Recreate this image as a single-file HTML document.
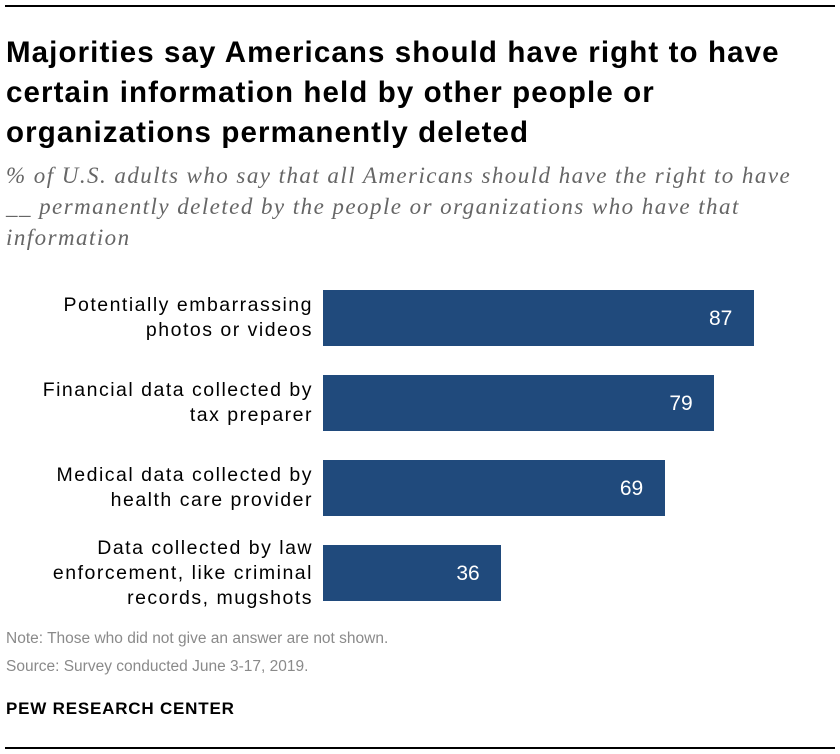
<!DOCTYPE html>
<html><head><meta charset="utf-8"><style>
body{margin:0;width:840px;height:754px;background:#fff;position:relative;font-family:"Liberation Sans",sans-serif;overflow:hidden}
.abs{position:absolute}
#title{left:6px;top:33px;font-size:29.5px;font-weight:bold;line-height:40px;color:#000;letter-spacing:1.1px;white-space:nowrap}
#sub{left:6px;top:160px;font-family:"Liberation Serif",serif;font-style:italic;font-size:23px;line-height:31px;color:#666;letter-spacing:1.45px;white-space:nowrap}
.lab{position:absolute;right:527px;text-align:right;font-size:19.5px;line-height:25px;color:#000;letter-spacing:1.5px;white-space:nowrap}
.bar{position:absolute;background:#204a7c}
.val{position:absolute;color:#fff;font-size:21px;line-height:21px}
.note{left:6px;font-size:15.5px;color:#8a8a8a}
</style></head><body>
<div class="abs" style="left:5px;top:5px;width:830px;height:2px;background:#000"></div>
<div id="title" class="abs">Majorities say Americans should have right to have<br>certain information held by other people or<br>organizations permanently deleted</div>
<div id="sub" class="abs">% of U.S. adults who say that all Americans should have the right to have<br>__ permanently deleted by the people or organizations who have that<br>information</div>
<div id="chart"></div>
<div class="abs note" style="top:630px">Note: Those who did not give an answer are not shown.</div>
<div class="abs note" style="top:658px">Source: Survey conducted June 3-17, 2019.</div>
<div class="abs" style="left:6px;top:699px;font-size:17px;font-weight:bold;letter-spacing:0.8px">PEW RESEARCH CENTER</div>
<div class="abs" style="left:5px;top:747px;width:830px;height:2px;background:#000"></div>
<script>
const categories=[["Potentially embarrassing","photos or videos"],["Financial data collected by","tax preparer"],["Medical data collected by","health care provider"],["Data collected by law","enforcement, like criminal","records, mugshots"]];
const values=[87,79,69,36];
const x0=323,scale=431/87,y0=290,pitch=85,bh=56;
const c=document.getElementById('chart');
values.forEach((v,i)=>{
  const y=y0+i*pitch;
  const b=document.createElement('div');b.className='bar';
  
  
  b.style.left=x0+'px';b.style.top=y+'px';b.style.width=(v*scale)+'px';b.style.height=bh+'px';
  c.appendChild(b);
  const t=document.createElement('div');t.className='val';
  
  
  t.textContent=v;t.style.left=(x0+v*scale-45)+'px';t.style.top=(y+18)+'px';
  c.appendChild(t);
  const l=document.createElement('div');l.className='lab';
  
  
  l.innerHTML=categories[i].join('<br>');
  const n=categories[i].length;
  l.style.top=(y+bh/2-n*25/2)+'px';
  c.appendChild(l);
});
</script>
</body></html>
